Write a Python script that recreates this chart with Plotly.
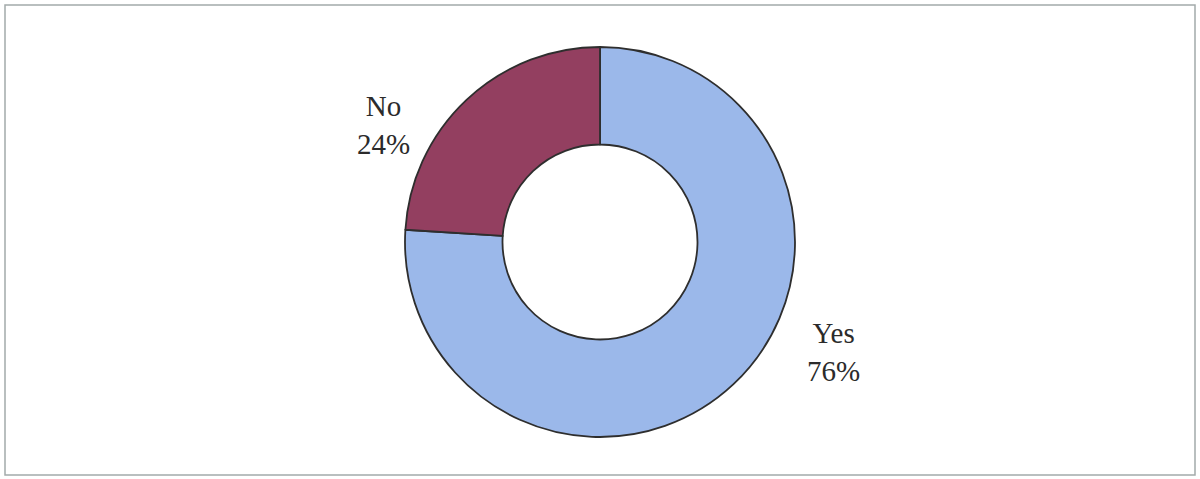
import plotly.graph_objects as go

labels = ["Yes", "No"]
values = [76, 24]
colors = ["#9BB8EA", "#933F60"]

W, H = 1200, 479
cx, cy, r = 600, 242, 195

fig = go.Figure(go.Pie(
    labels=labels, values=values, hole=0.5, sort=False,
    direction="clockwise", rotation=0,
    marker=dict(colors=colors, line=dict(color="#2e2e2e", width=1.8)),
    textinfo="none", hoverinfo="label+percent", showlegend=False,
    domain=dict(x=[(cx - r) / W, (cx + r) / W], y=[(H - cy - r) / H, (H - cy + r) / H]),
))

total = sum(values)
label_pos = {"Yes": (833, 352), "No": (383, 125)}
for lab, val in zip(labels, values):
    px, py = label_pos[lab]
    fig.add_annotation(
        x=px / W, y=1 - py / H, xref="paper", yref="paper",
        xanchor="center", yanchor="middle",
        text=f"{lab}<br>{round(100 * val / total)}%", showarrow=False,
        font=dict(family="Liberation Serif, Times New Roman, serif", size=29, color="#2b2b2b"),
        align="center",
    )

fig.add_shape(type="rect", xref="paper", yref="paper",
              x0=5 / W, x1=1195 / W, y0=1 - 475 / H, y1=1 - 5 / H,
              line=dict(color="#a3abab", width=1.5))

fig.update_layout(
    width=W, height=H, margin=dict(l=0, r=0, t=0, b=0),
    paper_bgcolor="white", plot_bgcolor="white",
)
fig.write_html("out.html", config={"displayModeBar": False},
               post_script="document.body.style.margin='0';")
